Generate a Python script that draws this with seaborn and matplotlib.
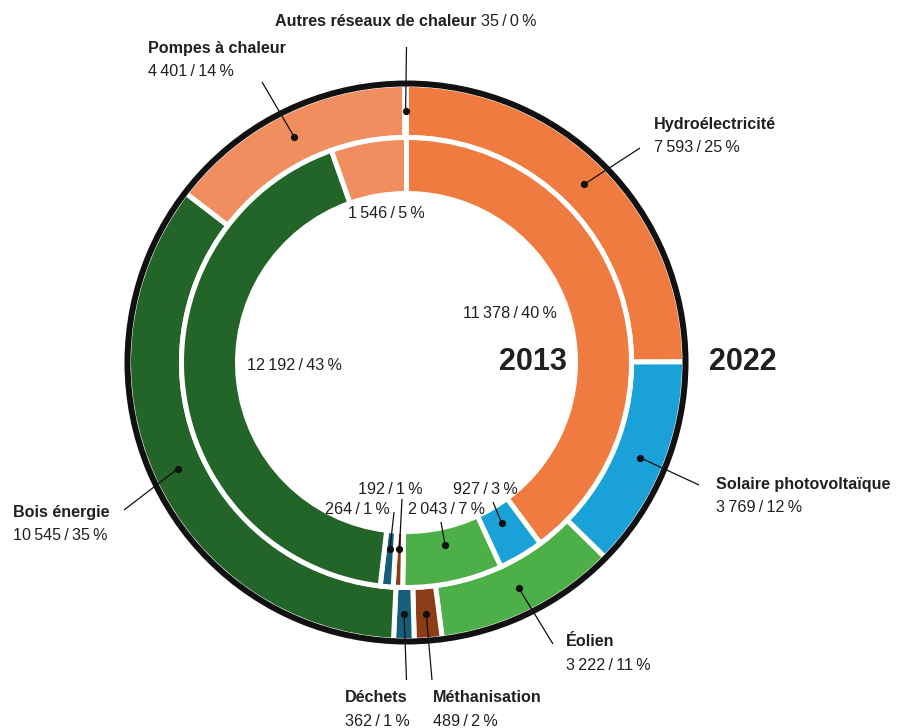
import matplotlib
matplotlib.use("Agg")
import matplotlib.pyplot as plt
import seaborn as sns
import numpy as np

# Production d'énergie renouvelable (GWh) par filière
filieres = ["Hydroélectricité", "Solaire photovoltaïque", "Éolien", "Méthanisation",
            "Déchets", "Bois énergie", "Pompes à chaleur", "Autres réseaux de chaleur"]
valeurs_2022 = [7593, 3769, 3222, 489, 362, 10545, 4401, 35]
valeurs_2013 = [11378, 927, 2043, 192, 264, 12192, 1546, 0]
couleurs = ["#EF7B40", "#1AA1D7", "#4DAF48", "#8C3D17",
            "#155E7A", "#236428", "#F08E60", "#D9442B"]

sns.set_theme(style="white")
plt.rcParams["font.family"] = ["Liberation Sans Narrow", "Liberation Sans", "DejaVu Sans"]
INK = "#231F20"

W, H = 899, 728
fig = plt.figure(figsize=(W / 100, H / 100), dpi=100)
ax = fig.add_axes([0, 0, 1, 1])


def Y(y):
    # pixel row (from top) -> data y
    return H - y


cx, cy = 406.5, Y(362.5)
sep = 3.6  # white separator stroke (pt)

outer, _ = ax.pie(valeurs_2022, radius=278, center=(cx, cy), startangle=90,
                  counterclock=False, colors=couleurs,
                  wedgeprops=dict(width=53, edgecolor="white", linewidth=sep))
inner, _ = ax.pie(valeurs_2013, radius=225, center=(cx, cy), startangle=90,
                  counterclock=False, colors=couleurs,
                  wedgeprops=dict(width=56, edgecolor="white", linewidth=sep))
# black rim around the 2022 ring
ax.pie([1], radius=282, center=(cx, cy), colors=["#111111"],
       wedgeprops=dict(width=6, linewidth=0))

ax.set_xlim(0, W)
ax.set_ylim(0, H)
ax.set_aspect("auto")
ax.axis("off")


def fmt(v, total):
    num = f"{v:,}".replace(",", "\u2009")
    pct = round(v / total * 100)
    return f"{num}\u2009/\u2009{pct}\u2009%"


def mid_point(wedge, r):
    a = np.deg2rad((wedge.theta1 + wedge.theta2) / 2)
    return cx + r * np.cos(a), cy + r * np.sin(a)


def pointer(wedge, r, end):
    x0, y0 = mid_point(wedge, r)
    ax.plot([x0, end[0]], [y0, Y(end[1])], color="#111111", lw=0.9, zorder=5,
            solid_capstyle="butt")
    ax.plot([x0], [y0], "o", color="#111111", ms=4.2, zorder=6)


FS = 11.6
tot22 = sum(valeurs_2022)
tot13 = sum(valeurs_2013)

# labels of the 2022 ring: (index, text left x, bold line y, line end)
labels_2022 = [
    (0, 654, 125, (640, 148)),
    (1, 716, 484, (699, 485)),
    (2, 566, 642, (553, 644)),
    (3, 433, 698, (432, 680)),
    (4, 345, 698, (406.5, 680)),
    (5, 13, 513, (124, 510)),
    (6, 148, 48, (262, 82)),
]
for i, x, y, end in labels_2022:
    ax.text(x, Y(y), filieres[i], fontsize=FS, fontweight="bold", color=INK,
            ha="left", va="center")
    ax.text(x, Y(y + 23), fmt(valeurs_2022[i], tot22), fontsize=FS, color=INK,
            ha="left", va="center")
    pointer(outer[i], 252, end)

# tiny slice at the top: name and value on a single line
t_autres = ax.text(275, Y(22), filieres[7], fontsize=FS, fontweight="bold",
                   color=INK, ha="left", va="center")
ax.annotate(fmt(valeurs_2022[7], tot22), xy=(1, 0.5), xycoords=t_autres,
            xytext=(5, 0), textcoords="offset pixels", fontsize=FS, color=INK,
            ha="left", va="center")
pointer(outer[7], 252, (406.5, 47))

# labels of the 2013 ring
plain_2013 = [(0, 463, 313), (5, 247, 365), (6, 348, 213)]
for i, x, y in plain_2013:
    ax.text(x, Y(y), fmt(valeurs_2013[i], tot13), fontsize=FS, color=INK,
            ha="left", va="center")

pointed_2013 = [
    (1, 453, 490, (493, 502)),
    (2, 408, 510, (441, 522)),
    (3, 358, 489, (402, 499)),
]
for i, x, y, end in pointed_2013:
    ax.text(x, Y(y), fmt(valeurs_2013[i], tot13), fontsize=FS, color=INK,
            ha="left", va="center")
    pointer(inner[i], 187, end)

ax.text(390, Y(510), fmt(valeurs_2013[4], tot13), fontsize=FS, color=INK,
        ha="right", va="center")
pointer(inner[4], 187, (394, 512))

# year captions
ax.text(533, Y(362), "2013", fontsize=22, fontweight="bold", color=INK,
        ha="center", va="center")
ax.text(742.5, Y(362), "2022", fontsize=22, fontweight="bold", color=INK,
        ha="center", va="center")

fig.savefig("out.png", dpi=100, facecolor="white")
